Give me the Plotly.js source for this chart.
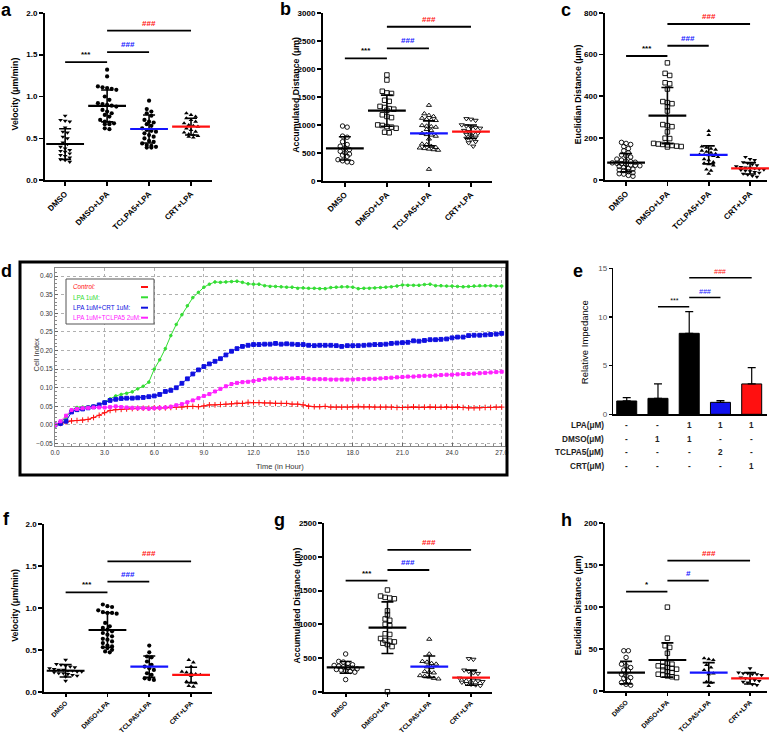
<!DOCTYPE html>
<html><head><meta charset="utf-8">
<script src="https://cdn.plot.ly/plotly-3.0.1.min.js"></script>
<style>html,body{margin:0;padding:0;background:#fff}#chart{width:772px;height:735px}</style>
</head><body><div id="chart"></div>
<script>
const categories = ['DMSO', 'DMSO+LPA', 'TCLPA5+LPA', 'CRT+LPA'];
const sigPairs = [[0, 1], [1, 2], [1, 3]];

// ---- panel a: Velocity ----
const aDMSO = [0.77,0.72,0.71,0.70,0.63,0.58,0.57,0.52,0.50,0.45,0.43,0.40,0.38,0.36,0.35,0.34,0.32,0.30,0.29,0.27,0.25,0.24,0.22];
const aDMSOLPA = [1.32,1.24,1.12,1.11,1.10,1.09,1.08,1.00,0.96,0.92,0.91,0.90,0.89,0.88,0.84,0.82,0.80,0.78,0.76,0.72,0.70,0.69,0.68,0.67,0.67,0.62,0.61];
const aTCLPA5 = [0.95,0.85,0.82,0.80,0.77,0.72,0.70,0.69,0.67,0.65,0.62,0.60,0.59,0.58,0.56,0.54,0.52,0.50,0.47,0.46,0.44,0.42,0.41,0.40,0.39,0.39];
const aCRT = [0.80,0.78,0.76,0.74,0.72,0.70,0.68,0.66,0.65,0.64,0.62,0.60,0.58,0.57,0.55,0.54,0.53,0.52,0.51];
const aMean = [0.433, 0.887, 0.612, 0.64];
const aSD = [0.183, 0.19, 0.167, 0.10];
const aSigY = [1.41, 1.53, 1.785];
const aSigText = ['***', '###', '###'];

// ---- panel b: Accumulated distance ----
const bDMSO = [980,960,800,780,700,650,620,590,560,530,500,480,460,440,380,360,340,330];
const bDMSOLPA = [1890,1800,1600,1570,1560,1440,1420,1330,1310,1290,1280,1260,1180,1150,1130,1000,990,970,960,940,870,860];
const bTCLPA5 = [1350,1200,1170,1150,1120,1100,1090,1080,990,980,970,960,920,900,850,830,820,800,750,660,650,620,600,590,580,570,560,550,210];
const bCRT = [1110,1100,1080,1000,980,960,950,940,900,880,860,850,830,800,780,760,740,700,680,620];
const bMean = [582, 1253, 849, 879];
const bSD = [208, 277, 222, 119];
const bSigY = [2186, 2364, 2750];
const bSigText = ['***', '###', '###'];

// ---- panel c: Euclidian distance ----
const cDMSO = [180,175,170,160,150,140,130,120,115,110,100,95,90,88,85,82,80,78,75,72,70,68,65,60,55,52,48,45,40,35,30,28,22,18];
const cDMSOLPA = [560,510,500,465,460,435,375,370,365,350,330,265,260,255,230,200,198,175,172,170,168,165,162,160,158];
const cTCLPA5 = [235,215,160,155,150,145,140,135,130,125,122,120,118,115,110,100,95,85,80,75,70,50,45,30];
const cCRT = [110,100,95,85,80,75,70,65,62,60,58,55,52,50,48,45,42,38,35,30,25,20,15];
const cMean = [83, 308, 120, 56];
const cSD = [44, 134, 43, 27];
const cSigY = [593, 642, 746];
const cSigText = ['***', '###', '###'];

// ---- panel d: xCELLigence cell index ----
const dTime = [0,0.33,0.67,1,1.33,1.67,2,2.33,2.67,3,
 3.33,3.67,4,4.33,4.67,5,5.33,5.67,6,6.33,
 6.67,7,7.33,7.67,8,8.33,8.67,9,9.33,9.67,
 10,10.33,10.67,11,11.33,11.67,12,12.33,12.67,13,
 13.33,13.67,14,14.33,14.67,15,15.33,15.67,16,16.33,
 16.67,17,17.33,17.67,18,18.33,18.67,19,19.33,19.67,
 20,20.33,20.67,21,21.33,21.67,22,22.33,22.67,23,
 23.33,23.67,24,24.33,24.67,25,25.33,25.67,26,26.33,
 26.67,27];
const dControl = [0.000,0.004,0.008,0.011,0.012,0.013,0.015,0.020,0.026,0.033,
 0.039,0.041,0.042,0.043,0.044,0.045,0.045,0.045,0.046,0.046,
 0.046,0.047,0.048,0.048,0.050,0.050,0.049,0.051,0.054,0.054,
 0.055,0.056,0.057,0.059,0.058,0.061,0.060,0.060,0.059,0.059,
 0.058,0.058,0.058,0.056,0.056,0.054,0.050,0.049,0.049,0.050,
 0.048,0.048,0.048,0.048,0.049,0.050,0.049,0.049,0.048,0.048,
 0.048,0.048,0.047,0.047,0.048,0.049,0.048,0.048,0.049,0.048,
 0.048,0.049,0.048,0.049,0.047,0.046,0.046,0.046,0.047,0.047,
 0.048,0.048];
const dLPA = [0.000,0.008,0.020,0.040,0.047,0.048,0.049,0.051,0.055,0.062,
 0.070,0.078,0.082,0.085,0.089,0.097,0.104,0.115,0.150,0.175,
 0.205,0.240,0.270,0.296,0.320,0.342,0.356,0.370,0.378,0.384,
 0.383,0.384,0.385,0.386,0.383,0.379,0.378,0.378,0.374,0.372,
 0.372,0.371,0.370,0.370,0.367,0.368,0.367,0.367,0.366,0.366,
 0.369,0.370,0.371,0.371,0.370,0.366,0.367,0.367,0.368,0.369,
 0.370,0.371,0.373,0.376,0.375,0.375,0.375,0.377,0.378,0.374,
 0.374,0.373,0.373,0.372,0.371,0.372,0.373,0.374,0.374,0.374,
 0.373,0.373];
const dLPACRT = [0.000,0.004,0.010,0.035,0.041,0.043,0.046,0.049,0.054,0.060,
 0.066,0.069,0.071,0.072,0.072,0.073,0.074,0.076,0.078,0.082,
 0.090,0.093,0.100,0.112,0.124,0.137,0.148,0.157,0.164,0.171,
 0.178,0.188,0.198,0.205,0.211,0.214,0.216,0.216,0.217,0.217,
 0.219,0.217,0.218,0.217,0.216,0.216,0.214,0.213,0.214,0.214,
 0.214,0.213,0.211,0.213,0.213,0.213,0.214,0.215,0.216,0.216,
 0.217,0.219,0.220,0.221,0.222,0.226,0.225,0.227,0.229,0.229,
 0.230,0.231,0.234,0.236,0.236,0.240,0.241,0.241,0.242,0.243,
 0.244,0.246];
const dLPATCLPA5 = [0.000,0.010,0.025,0.040,0.043,0.045,0.046,0.047,0.047,0.047,
 0.048,0.050,0.048,0.047,0.046,0.045,0.045,0.044,0.045,0.046,
 0.047,0.049,0.053,0.056,0.061,0.066,0.072,0.078,0.083,0.090,
 0.097,0.104,0.110,0.113,0.115,0.116,0.118,0.121,0.123,0.125,
 0.125,0.125,0.126,0.125,0.126,0.126,0.124,0.123,0.123,0.123,
 0.122,0.122,0.122,0.122,0.122,0.123,0.123,0.124,0.124,0.125,
 0.126,0.127,0.128,0.129,0.130,0.130,0.131,0.132,0.132,0.133,
 0.134,0.135,0.135,0.136,0.137,0.137,0.138,0.139,0.140,0.141,
 0.142,0.143];
const dNames = ['Control:', 'LPA 1uM:', 'LPA 1uM+CRT 1uM:', 'LPA 1uM+TCLPA5 2uM:'];

// ---- panel e: relative impedance ----
const eValues = [1.37, 1.64, 8.32, 1.23, 3.12];
const eErr = [0.34, 1.48, 2.23, 0.17, 1.67];
const eSigY = [11.06, 12.0, 14.04];
const eSigPairs = [[1, 2], [2, 3], [2, 4]];
const eRowLabels = ['LPA(μM)', 'DMSO(μM)', 'TCLPA5(μM)', 'CRT(μM)'];
const eLPA = ['-', '-', '1', '1', '1'];
const eDMSO = ['-', '1', '1', '-', '-'];
const eTCLPA5 = ['-', '-', '-', '2', '-'];
const eCRT = ['-', '-', '-', '-', '1'];

// ---- panel f: Velocity ----
const fDMSO = [0.38,0.33,0.32,0.31,0.30,0.29,0.28,0.27,0.26,0.26,0.25,0.25,0.24,0.24,0.23,0.22,0.22,0.21,0.20,0.19,0.18,0.13];
const fDMSOLPA = [1.04,1.02,1.01,0.97,0.95,0.94,0.94,0.93,0.82,0.78,0.76,0.74,0.72,0.70,0.68,0.66,0.63,0.62,0.60,0.58,0.55,0.54,0.53,0.52,0.50,0.48,0.47];
const fTCLPA5 = [0.55,0.47,0.42,0.41,0.36,0.32,0.30,0.28,0.26,0.22,0.20,0.16,0.15,0.14];
const fCRT = [0.38,0.35,0.30,0.24,0.23,0.22,0.21,0.20,0.19,0.12,0.11,0.10,0.07,0.06];
const fMean = [0.25, 0.736, 0.298, 0.20];
const fSD = [0.074, 0.205, 0.127, 0.092];
const fSigY = [1.185, 1.312, 1.555];
const fSigText = ['***', '###', '###'];

// ---- panel g: Accumulated distance ----
const gDMSO = [560,450,440,420,400,390,380,370,360,350,340,330,320,310,300,290,180];
const gDMSOLPA = [1510,1420,1400,1390,1380,1200,1140,1080,1060,1000,980,860,850,790,760,750,740,720,700,670,0];
const gTCLPA5 = [780,560,450,440,420,410,370,360,300,290,280,240,230,220,200,190];
const gCRT = [490,480,320,300,280,270,200,190,180,170,160,150,140,120,110,100,90];
const gMean = [361, 950, 371, 208];
const gSD = [87, 384, 158, 112];
const gSigY = [1648, 1807, 2104];
const gSigText = ['***', '###', '###'];

// ---- panel h: Euclidian distance ----
const hDMSO = [48,48,40,32,30,28,25,24,20,18,16,15,12,10,8,7];
const hDMSOLPA = [100,63,54,52,45,35,33,32,30,29,28,27,26,25,23,22,20,19,18,17,16];
const hTCLPA5 = [39,38,37,31,28,25,22,21,20,11,10,6];
const hCRT = [27,22,21,21,20,20,19,16,15,14,13,12,11,10,8,7];
const hMean = [21.9, 37, 21.9, 15.1];
const hSD = [13.4, 20.4, 11.9, 6.8];
const hSigY = [118.5, 131.6, 155.5];
const hSigText = ['*', '#', '###'];

// ================= drawing =================
const W = 772, H = 735;
const FONT = 'Arial, "Liberation Sans", sans-serif';
const px = v => v / W;
const py = v => 1 - v / H;
const BLUE = '#1414ff', RED = '#ff1010', GREEN = '#33dd33', MAG = '#ff22ff';
const meanColors = ['black', 'black', BLUE, RED];
const sigColors = ['black', BLUE, RED];

const traces = [];
const layout = {
  width: W, height: H, margin: {l: 0, r: 0, t: 0, b: 0},
  paper_bgcolor: 'white', plot_bgcolor: 'rgba(0,0,0,0)', showlegend: false,
  font: {family: FONT, color: 'black'}, annotations: [], shapes: []
};

function swarm(vals, pxPerUnit, pxPerCat, step) {
  const idx = vals.map((v, i) => i).sort((a, b) => vals[b] - vals[a]);
  const off = new Array(vals.length).fill(0);
  let row = [], top = null;
  const flush = () => { row.forEach((i, k) => { off[i] = (k - (row.length - 1) / 2) * step / pxPerCat; }); row = []; };
  idx.forEach(i => {
    if (top !== null && (top - vals[i]) * pxPerUnit < step * 0.75) row.push(i);
    else { flush(); row = [i]; top = vals[i]; }
  });
  flush();
  return off;
}

function scatterPanel(p) {
  const xa = 'xaxis' + p.n, ya = 'yaxis' + p.n, xr = 'x' + p.n, yr = 'y' + p.n;
  const plotH = p.yb - p.yt, plotW = p.xr - p.xl;
  const pxPerUnit = plotH / p.ymax;
  const pxPerCat = plotW / (p.xrange[1] - p.xrange[0]);
  p.groups.forEach((vals, g) => {
    const off = swarm(vals, pxPerUnit, pxPerCat, 4.6);
    const sym = p.symbols[g];
    const open = sym.indexOf('open') >= 0;
    traces.push({
      type: 'scatter', mode: 'markers', xaxis: xr, yaxis: yr, cliponaxis: false,
      x: vals.map((v, i) => g + off[i]), y: vals,
      marker: {symbol: sym, size: open ? 4.5 : 4.2, color: 'black', line: {color: 'black', width: open ? 0.9 : 0}},
      hoverinfo: 'skip'
    });
  });
  traces.push({
    type: 'scatter', mode: 'markers', xaxis: xr, yaxis: yr, cliponaxis: false,
    x: [0, 1, 2, 3], y: p.mean,
    marker: {symbol: 'line-ew', size: 27, color: meanColors, line: {color: meanColors, width: 2.2}},
    error_y: {type: 'data', array: p.sd, visible: true, color: 'black', thickness: 1.6, width: 6},
    hoverinfo: 'skip'
  });
  layout[xa] = {
    domain: [px(p.xl), px(p.xr)], range: p.xrange, anchor: yr,
    tickmode: 'array', tickvals: [0, 1, 2, 3], ticktext: categories, tickangle: -45,
    ticks: 'outside', ticklen: p.xticklen, tickwidth: 1.8, tickcolor: 'black',
    showline: true, linewidth: 2, linecolor: 'black', showgrid: false, zeroline: false,
    tickfont: {family: FONT, size: p.xfont, weight: 'bold', color: 'black'}
  };
  layout[ya] = {
    domain: [py(p.yb), py(p.yt)], range: [0, p.ymax], anchor: xr,
    dtick: p.dtick, tick0: 0, tickformat: p.tickformat,
    ticks: 'outside', ticklen: 4, tickwidth: 1.8, tickcolor: 'black',
    showline: true, linewidth: 2, linecolor: 'black', showgrid: false, zeroline: false,
    tickfont: {family: FONT, size: 8, weight: 'bold', color: 'black'}
  };
  p.sigY.forEach((y, k) => {
    const [a, b] = sigPairs[k];
    layout.shapes.push({type: 'line', xref: xr, yref: yr, x0: a, x1: b, y0: y, y1: y, line: {color: 'black', width: 1.8}});
    layout.annotations.push({xref: xr, yref: yr, x: (a + b) / 2, y: y, yanchor: 'bottom', yshift: 1,
      text: p.sigText[k], showarrow: false, font: {family: FONT, size: 8, weight: 'bold', color: sigColors[k]}});
  });
  layout.annotations.push({xref: 'paper', yref: 'paper', x: px(p.titleX), y: py((p.yt + p.yb) / 2 - 2),
    text: p.title, textangle: -90, showarrow: false, xanchor: 'center', yanchor: 'middle',
    font: {family: FONT, size: 8.8, weight: 'bold', color: 'black'}});
}

scatterPanel({n: 1, xl: 45, xr: 212, yt: 12.7, yb: 180.3, xrange: [-0.48, 3.5], ymax: 2, dtick: 0.5, tickformat: '.1f', xfont: 8, xticklen: 4,
  groups: [aDMSO, aDMSOLPA, aTCLPA5, aCRT], symbols: ['triangle-down', 'circle', 'circle', 'triangle-up'],
  mean: aMean, sd: aSD, sigY: aSigY, sigText: aSigText, title: 'Velocity (μm/min)', titleX: 15});
scatterPanel({n: 2, xl: 323, xr: 492, yt: 12.7, yb: 181, xrange: [-0.52, 3.5], ymax: 3000, dtick: 500, tickformat: 'd', xfont: 8, xticklen: 4,
  groups: [bDMSO, bDMSOLPA, bTCLPA5, bCRT], symbols: ['circle-open', 'square-open', 'triangle-up-open', 'triangle-down-open'],
  mean: bMean, sd: bSD, sigY: bSigY, sigText: bSigText, title: 'Accumulated Distance (μm)', titleX: 296});
scatterPanel({n: 3, xl: 605, xr: 767, yt: 12.7, yb: 180, xrange: [-0.51, 3.41], ymax: 800, dtick: 200, tickformat: 'd', xfont: 8, xticklen: 4,
  groups: [cDMSO, cDMSOLPA, cTCLPA5, cCRT], symbols: ['circle-open', 'square-open', 'triangle-up', 'triangle-down'],
  mean: cMean, sd: cSD, sigY: cSigY, sigText: cSigText, title: 'Euclidian Distance (μm)', titleX: 578});
scatterPanel({n: 6, xl: 44.3, xr: 212, yt: 524, yb: 691.7, xrange: [-0.51, 3.5], ymax: 2, dtick: 0.5, tickformat: '.1f', xfont: 6.6, xticklen: 3,
  groups: [fDMSO, fDMSOLPA, fTCLPA5, fCRT], symbols: ['triangle-down', 'circle', 'circle', 'triangle-up'],
  mean: fMean, sd: fSD, sigY: fSigY, sigText: fSigText, title: 'Velocity (μm/min)', titleX: 15});
scatterPanel({n: 7, xl: 324.3, xr: 492, yt: 523.3, yb: 691.7, xrange: [-0.51, 3.5], ymax: 2500, dtick: 500, tickformat: 'd', xfont: 6.6, xticklen: 3,
  groups: [gDMSO, gDMSOLPA, gTCLPA5, gCRT], symbols: ['circle-open', 'square-open', 'triangle-up-open', 'triangle-down-open'],
  mean: gMean, sd: gSD, sigY: gSigY, sigText: gSigText, title: 'Accumulated Distance (μm)', titleX: 296});
scatterPanel({n: 8, xl: 605, xr: 767, yt: 523.3, yb: 691, xrange: [-0.51, 3.41], ymax: 200, dtick: 50, tickformat: 'd', xfont: 6.6, xticklen: 3,
  groups: [hDMSO, hDMSOLPA, hTCLPA5, hCRT], symbols: ['circle-open', 'square-open', 'triangle-up', 'triangle-down'],
  mean: hMean, sd: hSD, sigY: hSigY, sigText: hSigText, title: 'Euclidian Distance (μm)', titleX: 578});

// ---- panel d ----
const dSeries = [dControl, dLPA, dLPACRT, dLPATCLPA5];
const dColors = [RED, GREEN, '#1010e0', MAG];
const dSymbols = ['cross-thin', 'circle', 'square', 'square'];
const dSizes = [4, 2.6, 3.8, 3];
dSeries.forEach((s, i) => {
  traces.push({type: 'scatter', mode: 'lines+markers', xaxis: 'x4', yaxis: 'y4', x: dTime, y: s,
    line: {color: dColors[i], width: 1}, marker: {symbol: dSymbols[i], size: dSizes[i], color: dColors[i], line: {color: dColors[i], width: 1}},
    hoverinfo: 'skip'});
});
layout.xaxis4 = {domain: [px(55), px(505)], range: [0, 27.2], anchor: 'y4', dtick: 3, tick0: 0, tickformat: '.1f',
  showgrid: true, gridcolor: '#b0b0b0', griddash: 'dot', gridwidth: 1, showline: true, mirror: true, linecolor: '#888', linewidth: 1,
  ticks: 'inside', ticklen: 3, tickcolor: '#666', zeroline: false,
  minor: {ticks: 'inside', ticklen: 2, nticks: 6, tickcolor: '#888', showgrid: false},
  tickfont: {family: FONT, size: 6.5, color: '#333'}};
layout.yaxis4 = {domain: [py(446), py(268)], range: [-0.0564, 0.4215], anchor: 'x4', dtick: 0.05, tick0: 0, tickformat: '.2f',
  showgrid: true, gridcolor: '#b0b0b0', griddash: 'dot', gridwidth: 1, showline: true, mirror: true, linecolor: '#888', linewidth: 1,
  ticks: 'inside', ticklen: 3, tickcolor: '#666', zeroline: false,
  minor: {ticks: 'inside', ticklen: 2, nticks: 5, tickcolor: '#888', showgrid: false},
  tickfont: {family: FONT, size: 6.5, color: '#333'}};
layout.shapes.push({type: 'rect', xref: 'paper', yref: 'paper', x0: px(20), x1: px(507), y0: py(475), y1: py(262), line: {color: 'black', width: 3}});
layout.shapes.push({type: 'rect', xref: 'paper', yref: 'paper', x0: px(66), x1: px(154), y0: py(324), y1: py(279), line: {color: '#555', width: 1}, fillcolor: 'white'});
const legY = [287, 297.3, 307.7, 317.7];
dNames.forEach((nm, i) => {
  layout.annotations.push({xref: 'paper', yref: 'paper', x: px(71), y: py(legY[i]), xanchor: 'left', yanchor: 'middle', showarrow: false,
    text: nm, font: {family: FONT, size: 6.3, color: dColors[i], style: i === 0 ? 'italic' : 'normal'}});
  layout.shapes.push({type: 'line', xref: 'paper', yref: 'paper', x0: px(141), x1: px(148), y0: py(legY[i]), y1: py(legY[i]), line: {color: dColors[i], width: 2}});
});
layout.annotations.push({xref: 'paper', yref: 'paper', x: px(29), y: py(355), textangle: -90, showarrow: false,
  text: 'Cell Index', font: {family: FONT, size: 7.5, color: '#333'}});
layout.annotations.push({xref: 'paper', yref: 'paper', x: px(280), y: py(466), showarrow: false,
  text: 'Time (in Hour)', font: {family: FONT, size: 7.5, color: '#333'}});

// ---- panel e ----
traces.push({type: 'bar', xaxis: 'x5', yaxis: 'y5', x: [0, 1, 2, 3, 4], y: eValues, width: 0.64,
  marker: {color: ['black', 'black', 'black', '#1010ee', '#ff1010'], line: {color: 'black', width: 1}},
  error_y: {type: 'data', symmetric: false, array: eErr, arrayminus: [0, 0, 0, 0, 0], visible: true, color: 'black', thickness: 1.2, width: 4},
  hoverinfo: 'skip'});
layout.xaxis5 = {domain: [px(613.3), px(766.7)], range: [-0.43, 4.48], anchor: 'y5', showticklabels: false, ticks: '',
  showline: true, linewidth: 1.6, linecolor: 'black', showgrid: false, zeroline: false};
layout.yaxis5 = {domain: [py(414.3), py(268.3)], range: [0, 15], anchor: 'x5', dtick: 5, tick0: 0,
  ticks: 'outside', ticklen: 3, tickwidth: 1.2, tickcolor: 'black', showline: true, linewidth: 1.6, linecolor: 'black',
  showgrid: false, zeroline: false, tickfont: {family: FONT, size: 8, color: '#555'}};
eSigY.forEach((y, k) => {
  const [a, b] = eSigPairs[k];
  layout.shapes.push({type: 'line', xref: 'x5', yref: 'y5', x0: a, x1: b, y0: y, y1: y, line: {color: 'black', width: 1.5}});
  layout.annotations.push({xref: 'x5', yref: 'y5', x: (a + b) / 2, y: y, yanchor: 'bottom', yshift: 1, showarrow: false,
    text: ['***', '###', '###'][k], font: {family: FONT, size: 7, color: sigColors[k], style: 'italic'}});
});
layout.annotations.push({xref: 'paper', yref: 'paper', x: px(591.7), y: py(342), textangle: -90, showarrow: false,
  text: 'Relative Impedance', font: {family: FONT, size: 9.5, color: 'black'}});
const eRows = [eLPA, eDMSO, eTCLPA5, eCRT];
const eRowY = [426, 439.3, 453, 466.5];
eRows.forEach((row, r) => {
  layout.annotations.push({xref: 'paper', yref: 'paper', x: px(606), y: py(eRowY[r]), xanchor: 'right', yanchor: 'middle', showarrow: false,
    text: eRowLabels[r], font: {family: FONT, size: 8.2, weight: 'bold', color: '#222'}});
  row.forEach((v, c) => {
    layout.annotations.push({xref: 'x5', yref: 'paper', x: c, y: py(eRowY[r]), yanchor: 'middle', showarrow: false,
      text: v, font: {family: FONT, size: 8.2, weight: 'bold', color: '#222'}});
  });
});

// ---- panel letters ----
const letters = [['a', 7, 10], ['b', 285, 9], ['c', 566, 10], ['d', 6, 271], ['e', 578, 271], ['f', 6, 519], ['g', 279, 520], ['h', 566, 520]];
letters.forEach(([t, x, y]) => layout.annotations.push({xref: 'paper', yref: 'paper', x: px(x), y: py(y), xanchor: 'center', yanchor: 'middle',
  showarrow: false, text: t, font: {family: FONT, size: 18, weight: 'bold', color: 'black'}}));

Plotly.newPlot('chart', traces, layout, {staticPlot: true, displayModeBar: false});
</script></body></html>
